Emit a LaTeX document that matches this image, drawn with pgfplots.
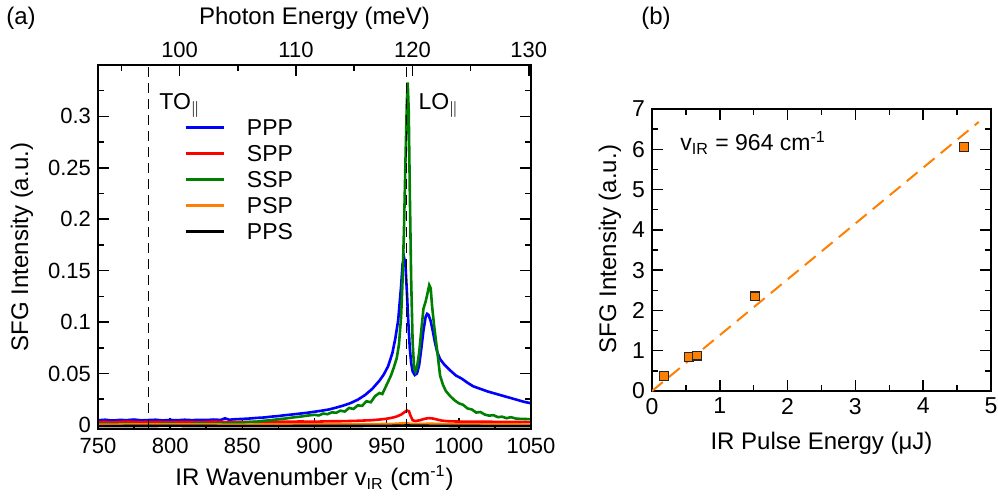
\documentclass[border=0pt]{standalone}
\usepackage{fontspec}
\setmainfont{Liberation Sans}
\usepackage{pgfplots}
\pgfplotsset{compat=1.18}
\definecolor{cblue}{RGB}{0,0,255}
\definecolor{cred}{RGB}{255,0,0}
\definecolor{cgreen}{RGB}{0,128,0}
\definecolor{corange}{RGB}{255,127,0}
\newcommand{\fs}{\fontsize{11}{13}\selectfont}
\newcommand{\fg}{\fontsize{11.5}{13}\selectfont}
\newcommand{\fl}{\fontsize{12}{14}\selectfont}
\begin{document}
\begin{tikzpicture}
\useasboundingbox (-49pt,-35pt) rectangle (450pt,214.5pt);
\pgfplotsset{
  myaxis/.style={scale only axis, axis line style={line width=1pt},
    every tick/.style={line width=0.75pt, black}, major tick length=5.5pt, minor tick length=3pt,
    tick align=inside, ticklabel style={font=\fs}, label style={font=\fl},
    /pgf/number format/assume math mode=true},
}
% ---------- panel (a) ----------
\begin{axis}[myaxis, at={(0pt,0pt)}, anchor=south west, width=216.5pt, height=182pt,
  xmin=750, xmax=1050, ymin=-0.004, ymax=0.35,
  xtick={750,800,...,1050}, xticklabels={750,800,850,900,950,1000,1050},
  minor xtick={775,825,875,925,975,1025},
  ytick={0,0.05,0.1,0.15,0.2,0.25,0.3}, yticklabels={0,0.05,0.1,0.15,0.2,0.25,0.3},
  minor ytick={0.025,0.075,0.125,0.175,0.225,0.275,0.325},
  xtick pos=left, ytick pos=both, yticklabel pos=left,
  xticklabel style={yshift=-1pt},
  xlabel={IR Wavenumber v\textsubscript{IR} (cm\textsuperscript{-1})},
  ylabel={SFG Intensity (a.u.)},
  xlabel style={at={(axis description cs:0.5,-0.135)}, anchor=center},
  ylabel style={at={(axis description cs:-0.1755,0.5)}, anchor=center},
  legend style={draw=none, fill=none, font=\fg, at={(0.1986,0.8654)}, anchor=north west,
    inner sep=0pt, row sep=0pt, nodes={inner sep=0pt, text height=8pt, text depth=0pt, minimum height=13pt},
    /tikz/every odd column/.append style={column sep=11pt}},
  legend cell align=left,
  legend image code/.code={\draw[#1, line width=1.3pt] (0pt,0pt) -- (19pt,0pt);},
  clip=true]
\addplot[cblue, line width=1.3pt] coordinates {
(750,0.0045)(755,0.0050)(760,0.0042)(765,0.0048)(770,0.0046)(775,0.0052)(780,0.0044)(785,0.0047)
(790,0.0050)(795,0.0043)(800,0.0048)(805,0.0045)(810,0.0050)(815,0.0046)(820,0.0049)(825,0.0047)
(830,0.0052)(835,0.0048)(838,0.0064)(841,0.0050)(845,0.0055)(850,0.0058)(855,0.0062)(860,0.0068)
(865,0.0072)(870,0.0080)(875,0.0086)(880,0.0095)(885,0.0102)(890,0.0110)(895,0.0118)(900,0.0128)
(905,0.0138)(910,0.0150)(915,0.0168)(920,0.0188)(925,0.0212)(930,0.0245)(935,0.0290)(940,0.0350)
(945,0.0430)(948,0.0490)(951,0.0570)(954,0.0700)(956,0.0840)(958,0.1020)(960,0.1350)(961,0.1560)
(962,0.1630)(963,0.1560)(964,0.1300)(965,0.1000)(966,0.0750)(967,0.0600)(968,0.0520)(969.5,0.0485)
(971,0.0500)(972.5,0.0580)(974,0.0740)(975.5,0.0920)(977,0.1050)(978,0.1080)(979,0.1070)(980.5,0.1010)
(982,0.0910)(983.5,0.0800)(985,0.0710)(987,0.0640)(990,0.0585)(994,0.0530)(998,0.0480)(1002,0.0450)
(1006,0.0410)(1010,0.0375)(1015,0.0350)(1020,0.0325)(1025,0.0305)(1030,0.0285)(1035,0.0265)
(1040,0.0245)(1045,0.0225)(1050,0.0210)};
\addlegendentry{PPP}
\addplot[cred, line width=1.3pt] coordinates {
(750,0.0030)(760,0.0026)(770,0.0032)(780,0.0027)(790,0.0030)(800,0.0025)(810,0.0029)(820,0.0026)
(830,0.0031)(840,0.0027)(850,0.0030)(860,0.0028)(870,0.0032)(880,0.0030)(890,0.0033)(900,0.0031)
(910,0.0035)(920,0.0036)(930,0.0040)(940,0.0046)(945,0.0052)(950,0.0060)(954,0.0070)(957,0.0082)
(960,0.0100)(962,0.0120)(964,0.0140)(965.5,0.0132)(966.5,0.0090)(968,0.0045)(970,0.0038)(973,0.0045)
(976,0.0058)(979,0.0066)(982,0.0062)(985,0.0052)(988,0.0042)(992,0.0036)(1000,0.0032)(1010,0.0030)
(1020,0.0031)(1030,0.0028)(1040,0.0029)(1050,0.0027)};
\addlegendentry{SPP}
\addplot[cgreen, line width=1.3pt] coordinates {
(750,0.0010)(760,0.0008)(770,0.0012)(780,0.0006)(790,0.0010)(800,0.0012)(810,0.0008)(820,0.0014)
(830,0.0012)(840,0.0016)(850,0.0022)(855,0.0028)(860,0.0032)(865,0.0040)(870,0.0046)(875,0.0055)
(880,0.0062)(885,0.0072)(890,0.0080)(895,0.0090)(900,0.0098)(903,0.0092)(906,0.0110)(909,0.0104)
(912,0.0122)(915,0.0118)(918,0.0138)(921,0.0130)(924,0.0165)(927,0.0155)(930,0.0190)(933,0.0185)
(936,0.0230)(939,0.0220)(942,0.0280)(945,0.0310)(947,0.0300)(949,0.0360)(951,0.0420)(953,0.0480)
(955,0.0560)(957,0.0650)(958.5,0.0780)(960,0.1050)(961,0.1400)(962,0.1900)(963,0.2550)(964,0.3150)
(964.6,0.3330)(965.3,0.3050)(966,0.2300)(967,0.1400)(968,0.0800)(969,0.0560)(970,0.0520)(971,0.0560)
(972.5,0.0700)(974,0.0920)(975.5,0.1130)(977,0.1200)(978,0.1260)(979.5,0.1360)(980.5,0.1330)
(981.5,0.1150)(983,0.0950)(985,0.0720)(987,0.0480)(989,0.0390)(991,0.0330)(994,0.0280)(997,0.0240)
(1000,0.0210)(1003,0.0195)(1006,0.0160)(1009,0.0150)(1012,0.0120)(1015,0.0125)(1018,0.0100)
(1021,0.0090)(1024,0.0095)(1027,0.0075)(1030,0.0080)(1033,0.0065)(1036,0.0075)(1040,0.0060)
(1045,0.0058)(1050,0.0055)};
\addlegendentry{SSP}
\addplot[corange, line width=1.3pt] coordinates {
(750,0.0003)(800,0.0004)(850,0.0003)(900,0.0005)(940,0.0007)(955,0.0010)(962,0.0016)(964,0.0018)
(967,0.0009)(972,0.0008)(980,0.0012)(990,0.0007)(1000,0.0005)(1050,0.0003)};
\addlegendentry{PSP}
\addplot[black, line width=1.3pt] coordinates {
(750,-0.0012)(800,-0.0010)(850,-0.0012)(900,-0.0011)(950,-0.0010)(964,-0.0006)(980,-0.0009)
(1000,-0.0011)(1050,-0.0012)};
\addlegendentry{PPS}
\addplot[black, line width=0.6pt, dash pattern=on 5pt off 3pt, forget plot] coordinates {(785,-0.004)(785,0.35)};
\addplot[black, line width=0.6pt, dash pattern=on 5pt off 3pt, forget plot] coordinates {(964,-0.004)(964,0.35)};
\node[anchor=base west, font=\fg, inner sep=0pt] at (axis cs:792.3,0.3068) {TO$_{\parallel}$};
\node[anchor=base west, font=\fg, inner sep=0pt] at (axis cs:971.8,0.3068) {LO$_{\parallel}$};
\end{axis}
% top axis
\begin{axis}[myaxis, at={(0pt,0pt)}, anchor=south west, width=216.5pt, height=182pt,
  xmin=92.989, xmax=130.185, ymin=0, ymax=1,
  xtick={100,110,120,130}, xticklabels={100,110,120,130}, minor xtick={95,105,115,125},
  ytick=\empty, xtick pos=right, xticklabel pos=right,
  xlabel={Photon Energy (meV)},
  xlabel style={at={(axis description cs:0.5,1.129)}, anchor=center}]
\end{axis}
\node[font=\fl] at (-38.5pt,205.5pt) {(a)};
\node[font=\fl] at (279pt,205.5pt) {(b)};
% ---------- panel (b) ----------
\begin{axis}[myaxis, at={(277pt,19pt)}, anchor=south west, width=169.5pt, height=141pt,
  xmin=0, xmax=5, ymin=0, ymax=7,
  xtick={0,1,2,3,4,5}, xticklabels={0,1,2,3,4,5}, minor xtick={0.5,1.5,2.5,3.5,4.5},
  ytick={0,1,2,3,4,5,6,7}, yticklabels={0,1,2,3,4,5,6,7}, minor ytick={0.5,1.5,2.5,3.5,4.5,5.5,6.5},
  xtick pos=both, ytick pos=both, xticklabel pos=left, yticklabel pos=left,
  ticklabel style={font=\fg},
  xlabel={IR Pulse Energy (μJ)}, ylabel={SFG Intensity (a.u.)},
  xlabel style={at={(axis description cs:0.5,-0.184)}, anchor=center},
  ylabel style={at={(axis description cs:-0.124,0.5035)}, anchor=center}]
\addplot[corange, line width=1pt, dash pattern=on 7pt off 4pt] coordinates {(0,0)(4.82,6.68)};
\addplot[only marks, mark=square*, mark size=2.2pt, mark options={fill=corange, draw=black!85, line width=0.6pt}]
  coordinates {(0.18,0.37)(0.55,0.84)(0.66,0.88)(1.52,2.35)(4.60,6.05)};
\node[anchor=base west, font=\fg, inner sep=0pt] at (axis cs:0.413,5.96) {v\textsubscript{IR} = 964 cm\textsuperscript{-1}};
\end{axis}
\end{tikzpicture}
\end{document}
